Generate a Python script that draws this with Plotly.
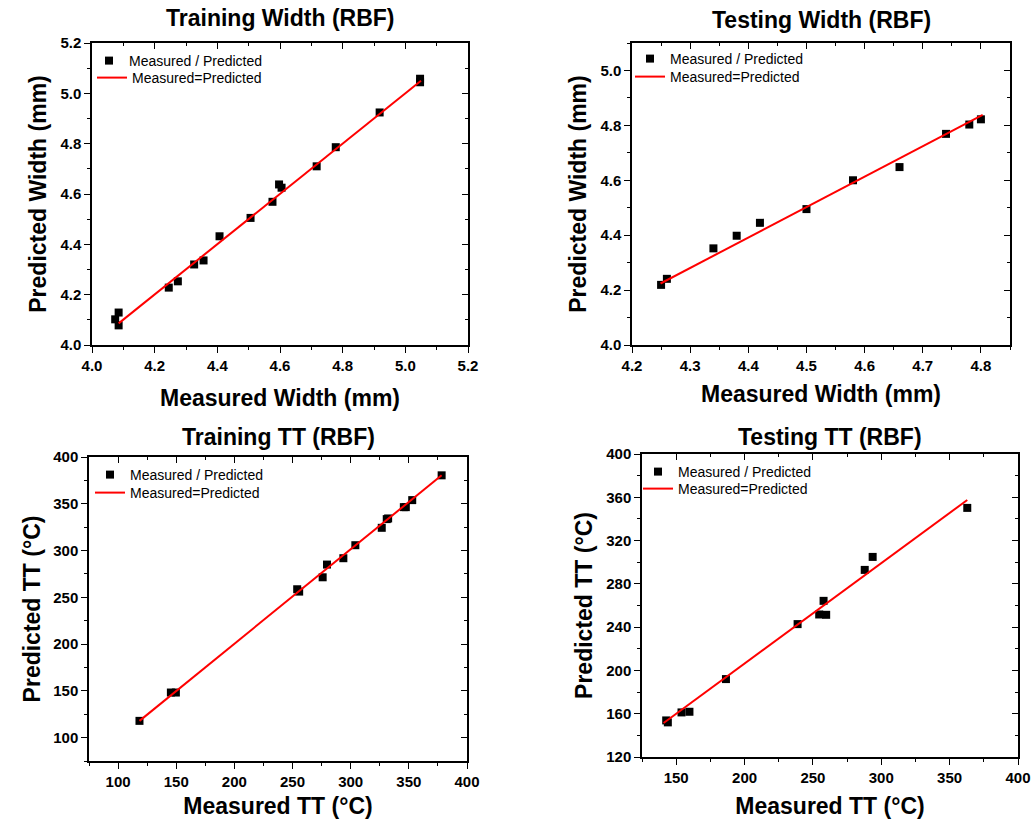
import plotly.graph_objects as go

# ---------------- data ----------------
train_width_meas = [4.074, 4.085, 4.085, 4.245, 4.274, 4.326, 4.356, 4.407, 4.506,
                    4.576, 4.597, 4.605, 4.717, 4.778, 4.918, 5.047, 5.047]
train_width_pred = [4.102, 4.129, 4.078, 4.228, 4.253, 4.320, 4.336, 4.432, 4.505,
                    4.569, 4.638, 4.625, 4.710, 4.786, 4.924, 5.058, 5.044]
train_width_fit_x = [4.085, 5.050]
train_width_fit_y = [4.086, 5.050]

test_width_meas = [4.25, 4.26, 4.34, 4.38, 4.42, 4.50, 4.58, 4.66, 4.74, 4.78, 4.80]
test_width_pred = [4.219, 4.241, 4.352, 4.398, 4.445, 4.495, 4.600, 4.648, 4.769, 4.803, 4.822]
test_width_fit_x = [4.249, 4.803]
test_width_fit_y = [4.224, 4.838]

train_tt_meas = [118.4, 145.4, 149.7, 254.0, 255.7, 275.9, 279.6, 293.7, 304.0,
                 326.7, 331.0, 332.2, 345.7, 347.4, 352.9, 378.2]
train_tt_pred = [117.9, 148.2, 148.2, 258.6, 256.1, 271.4, 285.0, 291.8, 305.7,
                 324.3, 333.6, 334.3, 346.4, 346.4, 353.9, 380.4]
train_tt_fit_x = [118.4, 378.2]
train_tt_fit_y = [117.9, 380.4]

test_tt_meas = [142.7, 143.9, 153.9, 159.7, 186.4, 238.8, 254.6, 257.8, 259.7, 287.9, 293.7, 362.9]
test_tt_pred = [153.8, 152.0, 161.2, 161.8, 192.0, 242.8, 251.7, 264.3, 251.4, 292.9, 304.9, 350.2]
test_tt_fit_x = [140.8, 362.9]
test_tt_fit_y = [151.4, 357.5]

titles = ["Training Width (RBF)", "Testing Width (RBF)", "Training TT (RBF)", "Testing TT (RBF)"]
x_titles = ["Measured Width (mm)", "Measured Width (mm)", "Measured TT (°C)", "Measured TT (°C)"]
y_titles = ["Predicted Width (mm)", "Predicted Width (mm)", "Predicted TT (°C)", "Predicted TT (°C)"]
scatter_name = "Measured / Predicted"
line_name = "Measured=Predicted"

# ---------------- layout geometry ----------------
W, H = 1035, 819
FONT = "Liberation Sans, Arial, sans-serif"


def px_x(v):
    return v / W


def px_y(v):
    return 1 - v / H


panels = [
    dict(meas=train_width_meas, pred=train_width_pred, fx=train_width_fit_x, fy=train_width_fit_y,
         xd=[92, 468], yd=[43, 345], xr=[4.0, 5.2], yr=[4.0, 5.2],
         xdt=0.2, xt0=4.0, xmin=0.1, ydt=0.2, yt0=4.0, ymin=0.1, fmt=".1f",
         title_y=18, leg1=(129, 61), leg2=(132, 78), xts=17, yts=7),
    dict(meas=test_width_meas, pred=test_width_pred, fx=test_width_fit_x, fy=test_width_fit_y,
         xd=[632, 1010], yd=[43, 345], xr=[4.2, 4.85], yr=[4.0, 5.1],
         xdt=0.1, xt0=4.2, xmin=0.05, ydt=0.2, yt0=4.0, ymin=0.1, fmt=".1f",
         title_y=20, leg1=(670, 59), leg2=(670, 77), xts=13, yts=7),
    dict(meas=train_tt_meas, pred=train_tt_pred, fx=train_tt_fit_x, fy=train_tt_fit_y,
         xd=[89, 467], yd=[457, 761], xr=[75, 400], yr=[75, 400],
         xdt=50, xt0=100, xmin=25, ydt=50, yt0=100, ymin=25, fmt="d",
         title_y=437, leg1=(130, 475), leg2=(130, 493), xts=11, yts=6),
    dict(meas=test_tt_meas, pred=test_tt_pred, fx=test_tt_fit_x, fy=test_tt_fit_y,
         xd=[642, 1018], yd=[454, 757], xr=[125, 400], yr=[120, 400],
         xdt=50, xt0=150, xmin=25, ydt=40, yt0=120, ymin=20, fmt="d",
         title_y=437, leg1=(678, 472), leg2=(678, 489), xts=14, yts=7),
]

fig = go.Figure()
layout = dict(
    width=W, height=H,
    paper_bgcolor="white", plot_bgcolor="white",
    margin=dict(l=0, r=0, t=0, b=0, autoexpand=False),
    font=dict(family=FONT, color="black"),
    annotations=[],
)

for i, p in enumerate(panels):
    k = i + 1
    sfx = "" if k == 1 else str(k)
    ok = k + 4  # overlay axes id for top/right inward ticks
    leg_a = "legend" if k == 1 else f"legend{2 * k - 1}"
    leg_b = f"legend{2 * k}"

    fig.add_trace(go.Scatter(
        x=p["meas"], y=p["pred"], mode="markers", name=scatter_name,
        marker=dict(symbol="square", size=8, color="black"),
        xaxis=f"x{sfx}", yaxis=f"y{sfx}", legend=leg_a,
    ))
    fig.add_trace(go.Scatter(
        x=p["fx"], y=p["fy"], mode="lines", name=line_name,
        line=dict(color="#ff0000", width=2),
        xaxis=f"x{sfx}", yaxis=f"y{sfx}", legend=leg_b,
    ))
    # dummy trace to create overlay subplot for mirrored inward ticks
    fig.add_trace(go.Scatter(
        x=[None], y=[None], mode="markers", showlegend=False, hoverinfo="skip",
        xaxis=f"x{ok}", yaxis=f"y{ok}",
    ))

    xdom = [px_x(p["xd"][0]), px_x(p["xd"][1])]
    ydom = [px_y(p["yd"][1]), px_y(p["yd"][0])]
    tickfont = dict(family=FONT, size=15, color="black", weight="bold")
    titlefont = dict(family=FONT, size=23, color="black", weight="bold")

    layout[f"xaxis{sfx}"] = dict(
        domain=xdom, anchor=f"y{sfx}", range=p["xr"], showgrid=False, zeroline=False,
        automargin=False,
        showline=True, linecolor="black", linewidth=1.5,
        ticks="outside", ticklen=6, tickwidth=1.3, tickcolor="black",
        tick0=p["xt0"], dtick=p["xdt"], tickformat=p["fmt"], tickfont=tickfont,
        minor=dict(ticks="outside", ticklen=3, tickwidth=1.2, tickcolor="black", dtick=p["xmin"], tick0=p["xt0"]),
        title=dict(text=x_titles[i], font=titlefont, standoff=p["xts"]),
    )
    layout[f"yaxis{sfx}"] = dict(
        domain=ydom, anchor=f"x{sfx}", range=p["yr"], showgrid=False, zeroline=False,
        automargin=False,
        showline=True, linecolor="black", linewidth=1.5,
        ticks="outside", ticklen=6, tickwidth=1.3, tickcolor="black",
        tick0=p["yt0"], dtick=p["ydt"], tickformat=p["fmt"], tickfont=tickfont,
        minor=dict(ticks="outside", ticklen=3, tickwidth=1.2, tickcolor="black", dtick=p["ymin"], tick0=p["yt0"]),
        title=dict(text=y_titles[i], font=titlefont, standoff=p["yts"]),
    )
    layout[f"xaxis{ok}"] = dict(
        overlaying=f"x{sfx}", side="top", anchor=f"y{ok}", range=p["xr"], automargin=False,
        showgrid=False, zeroline=False, showline=True, linecolor="black", linewidth=1.5,
        ticks="inside", ticklen=6, tickwidth=1.3, tickcolor="black", showticklabels=False,
        tick0=p["xt0"], dtick=p["xdt"],
        minor=dict(ticks="inside", ticklen=3, tickwidth=1.2, tickcolor="black", dtick=p["xmin"], tick0=p["xt0"]),
    )
    layout[f"yaxis{ok}"] = dict(
        overlaying=f"y{sfx}", side="right", anchor=f"x{ok}", range=p["yr"], automargin=False,
        showgrid=False, zeroline=False, showline=True, linecolor="black", linewidth=1.5,
        ticks="inside", ticklen=6, tickwidth=1.3, tickcolor="black", showticklabels=False,
        tick0=p["yt0"], dtick=p["ydt"],
        minor=dict(ticks="inside", ticklen=3, tickwidth=1.2, tickcolor="black", dtick=p["ymin"], tick0=p["yt0"]),
    )
    for name, pos in ((leg_a, p["leg1"]), (leg_b, p["leg2"])):
        layout[name] = dict(
            x=px_x(pos[0] - 40), y=px_y(pos[1]), xanchor="left", yanchor="middle",
            bgcolor="rgba(0,0,0,0)", borderwidth=0, tracegroupgap=0,
            font=dict(family=FONT, size=14, color="black"),
            itemwidth=30,
        )
    layout["annotations"].append(dict(
        text=titles[i], x=(xdom[0] + xdom[1]) / 2, y=px_y(p["title_y"]),
        xref="paper", yref="paper", xanchor="center", yanchor="middle", showarrow=False,
        font=dict(family=FONT, size=23, color="black", weight="bold"),
    ))

fig.update_layout(**layout)
fig.write_html(
    "out.html",
    config={"displayModeBar": False},
    post_script="document.body.style.margin='0';document.body.style.overflow='hidden';",
)
